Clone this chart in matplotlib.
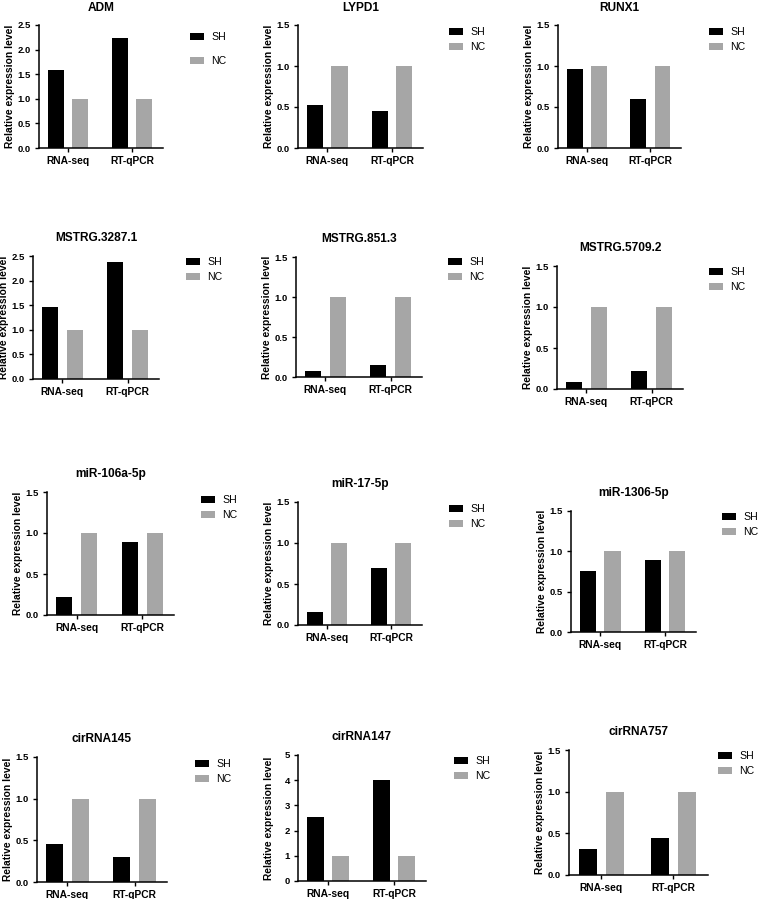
import matplotlib
matplotlib.use('agg')
import matplotlib.pyplot as plt
import numpy as np

plt.rcParams['font.family'] = ['Liberation Sans', 'DejaVu Sans']

# data
titles = ['ADM', 'LYPD1', 'RUNX1',
          'MSTRG.3287.1', 'MSTRG.851.3', 'MSTRG.5709.2',
          'miR-106a-5p', 'miR-17-5p', 'miR-1306-5p',
          'cirRNA145', 'cirRNA147', 'cirRNA757']
methods = ['RNA-seq', 'RT-qPCR']
sh_values = [[1.59, 2.23], [0.53, 0.45], [0.96, 0.60],
             [1.47, 2.37], [0.075, 0.145], [0.085, 0.22],
             [0.22, 0.89], [0.16, 0.69], [0.76, 0.89],
             [0.46, 0.30], [2.55, 4.0], [0.31, 0.45]]
nc_values = [[1.0, 1.0], [1.0, 1.0], [1.0, 1.0],
             [1.0, 1.0], [1.0, 1.0], [1.0, 1.0],
             [1.0, 1.0], [1.0, 1.0], [1.0, 1.0],
             [1.0, 1.0], [1.0, 1.0], [1.0, 1.0]]
y_max = [2.5, 1.5, 1.5, 2.5, 1.5, 1.5, 1.5, 1.5, 1.5, 1.5, 5, 1.5]
y_step = [0.5, 0.5, 0.5, 0.5, 0.5, 0.5, 0.5, 0.5, 0.5, 0.5, 1, 0.5]

# layout (pixels): axes left, top, right, bottom; legend offsets
W, H = 776, 899
boxes = [(39, 25, 163, 148), (298, 25, 423, 148), (558, 25, 681, 148),
         (33, 256, 159, 379), (296, 257, 422, 377), (557, 266, 683, 389),
         (47, 492, 174, 615), (298, 502, 422, 625), (571, 511, 696, 632),
         (37, 757, 167, 882), (298, 755, 426, 881), (569, 750, 708, 875)]
title_pad = [10, 10, 10, 11, 11, 11, 11, 11, 11, 11, 11, 11]
leg_dx = [27, 26, 28, 27, 26, 26, 27, 27, 26, 28, 28, 10]
leg_dy = [13, 8, 8, 7, 6, 7, 9, 8, 7, 8, 7, 7]
leg_space = [1.35, 0.5, 0.5, 0.5, 0.5, 0.5, 0.5, 0.5, 0.5, 0.5, 0.5, 0.5]

fig = plt.figure(figsize=(W / 100, H / 100), dpi=100)

for i in range(len(titles)):
    L, T, R, B = boxes[i]
    ax = fig.add_axes([L / W, 1 - B / H, (R - L) / W, (B - T) / H])
    x = np.arange(len(methods))
    b1 = ax.bar(x - 0.19, sh_values[i], 0.25, color='black', label='SH')
    b2 = ax.bar(x + 0.19, nc_values[i], 0.25, color='#a6a6a6', label='NC')
    ax.set_xlim(-0.45, 1.48)
    ax.set_ylim(0, y_max[i])
    ticks = np.arange(0, y_max[i] + y_step[i] / 2, y_step[i])
    ax.set_yticks(ticks)
    if y_step[i] >= 1:
        ax.set_yticklabels(['%d' % t for t in ticks])
    else:
        ax.set_yticklabels(['%.1f' % t for t in ticks])
    ax.set_xticks(x)
    ax.set_xticklabels(methods)
    for lab in ax.get_xticklabels():
        lab.set_fontweight('bold')
        lab.set_fontsize(7.4)
    for lab in ax.get_yticklabels():
        lab.set_fontweight('bold')
        lab.set_fontsize(6.8)
    ax.tick_params(axis='both', direction='out', length=3, width=1.0, pad=3, color='black')
    ax.spines['top'].set_visible(False)
    ax.spines['right'].set_visible(False)
    ax.spines['left'].set_linewidth(1.1)
    ax.spines['bottom'].set_linewidth(1.1)
    ax.set_title(titles[i], fontsize=8.6, fontweight='bold', pad=title_pad[i])
    ax.set_ylabel('Relative expression level', fontsize=7.4, fontweight='bold')
    ax.yaxis.set_label_coords(-24.0 / (R - L), 0.5)
    ax.legend(handles=[b1, b2], loc='upper left',
              bbox_to_anchor=((R + leg_dx[i]) / W, 1 - (T + leg_dy[i] - 6) / H),
              bbox_transform=fig.transFigure, frameon=False, fontsize=7.6,
              handlelength=1.3, handleheight=0.6, handletextpad=0.7,
              labelspacing=leg_space[i], borderpad=0, borderaxespad=0)

plt.savefig('out.png', dpi=100)
